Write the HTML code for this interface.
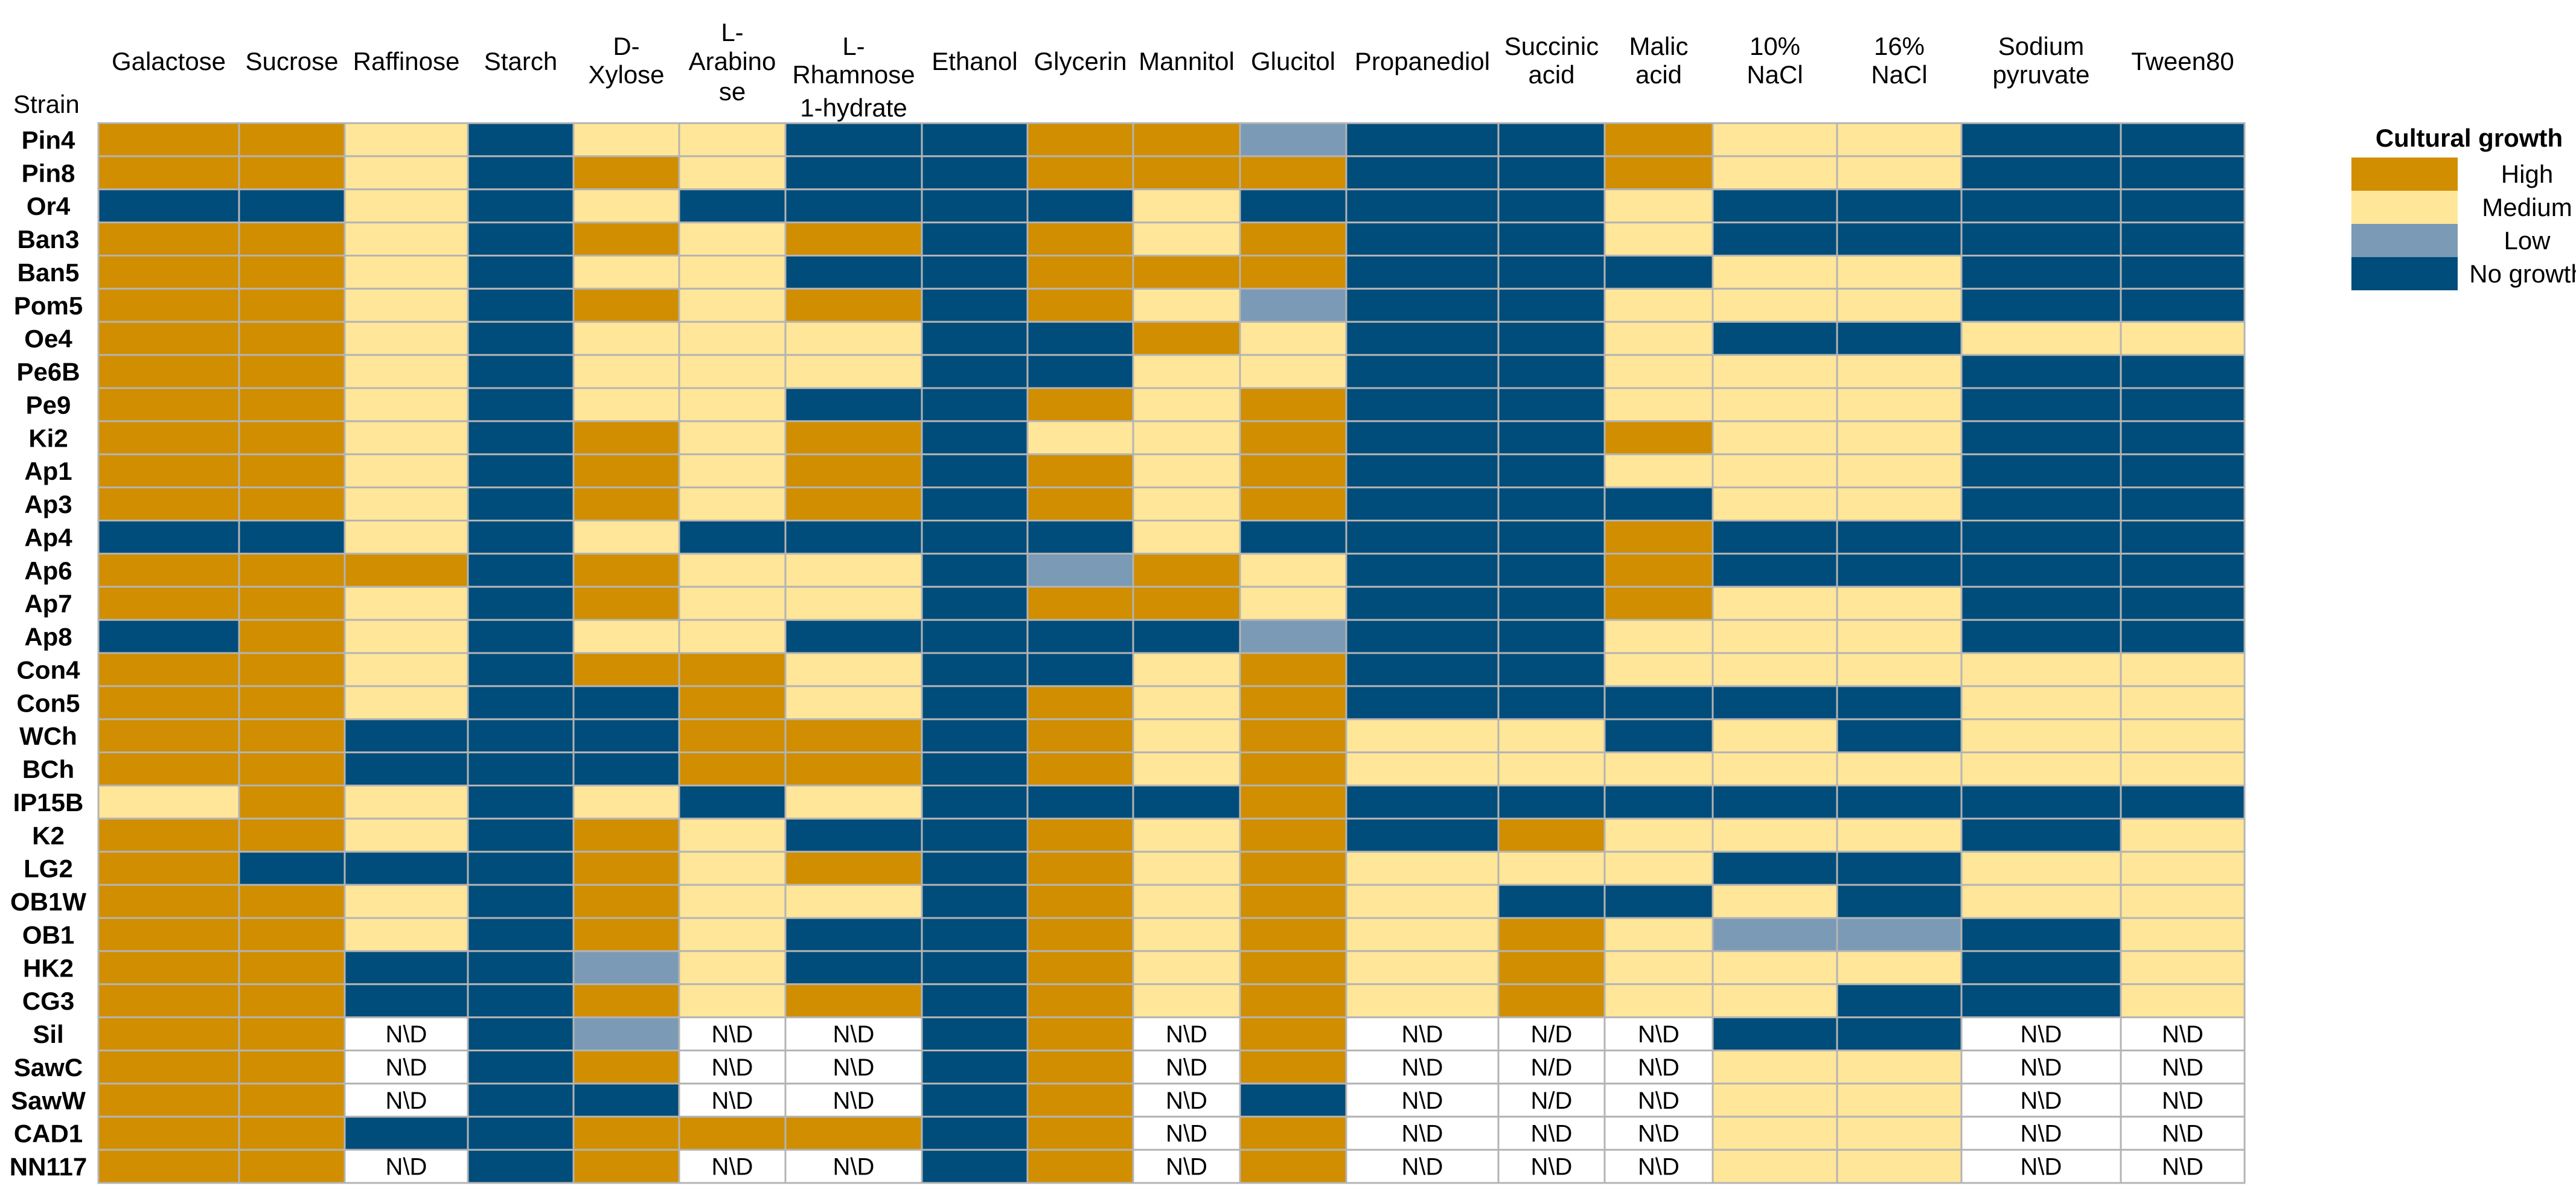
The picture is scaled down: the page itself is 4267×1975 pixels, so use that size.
<!DOCTYPE html>
<html><head><meta charset="utf-8">
<style>
html,body{margin:0;padding:0;background:#fff;}
svg{display:block;font-family:"Liberation Sans",Arial,sans-serif;}
</style></head>
<body>
<svg id="chart" width="4267" height="1975" viewBox="0 0 4267 1975" xmlns="http://www.w3.org/2000/svg"></svg>
<script>
const strains = ["Pin4","Pin8","Or4","Ban3","Ban5","Pom5","Oe4","Pe6B","Pe9","Ki2","Ap1","Ap3","Ap4","Ap6","Ap7","Ap8","Con4","Con5","WCh","BCh","IP15B","K2","LG2","OB1W","OB1","HK2","CG3","Sil","SawC","SawW","CAD1","NN117"];
const substrates = [["Galactose"],["Sucrose"],["Raffinose"],["Starch"],["D-","Xylose"],["L-","Arabino","se"],["L-","Rhamnose","1-hydrate"],["Ethanol"],["Glycerin"],["Mannitol"],["Glucitol"],["Propanediol"],["Succinic","acid"],["Malic","acid"],["10%","NaCl"],["16%","NaCl"],["Sodium","pyruvate"],["Tween80"]];
// H=High, M=Medium, L=Low, N=No growth, D=N\D, S=N/D
const growth = [
"HHMNMMNNHHLNNHMMNN",
"HHMNHMNNHHHNNHMMNN",
"NNMNMNNNNMNNNMNNNN",
"HHMNHMHNHMHNNMNNNN",
"HHMNMMNNHHHNNNMMNN",
"HHMNHMHNHMLNNMMMNN",
"HHMNMMMNNHMNNMNNMM",
"HHMNMMMNNMMNNMMMNN",
"HHMNMMNNHMHNNMMMNN",
"HHMNHMHNMMHNNHMMNN",
"HHMNHMHNHMHNNMMMNN",
"HHMNHMHNHMHNNNMMNN",
"NNMNMNNNNMNNNHNNNN",
"HHHNHMMNLHMNNHNNNN",
"HHMNHMMNHHMNNHMMNN",
"NHMNMMNNNNLNNMMMNN",
"HHMNHHMNNMHNNMMMMM",
"HHMNNHMNHMHNNNNNMM",
"HHNNNHHNHMHMMNMNMM",
"HHNNNHHNHMHMMMMMMM",
"MHMNMNMNNNHNNNNNNN",
"HHMNHMNNHMHNHMMMNM",
"HNNNHMHNHMHMMMNNMM",
"HHMNHMMNHMHMNNMNMM",
"HHMNHMNNHMHMHMLLNM",
"HHNNLMNNHMHMHMMMNM",
"HHNNHMHNHMHMHMMNNM",
"HHDNLDDNHDHDSDNNDD",
"HHDNHDDNHDHDSDMMDD",
"HHDNNDDNHDNDSDMMDD",
"HHNNHHHNHDHDDDMMDD",
"HHDNHDDNHDHDDDMMDD"
];
const legendLabels = ["High","Medium","Low","No growth"];
const legendCodes = ["H","M","L","N"];

const colors = {H:"#D08E00",M:"#FFE699",L:"#7B9AB5",N:"#004C7A",D:"#FFFFFF",S:"#FFFFFF"};
const ndText = {D:"N\\D",S:"N/D"};
const colEdges = [163,396,571,775,950,1125,1301,1527,1702,1877,2054,2230,2482,2658,2837,3043,3249,3513,3718];
const gridTop = 204, gridBottom = 1960;
const rowH = (gridBottom-gridTop)/strains.length;
const NS = "http://www.w3.org/2000/svg";
const svg = document.getElementById("chart");
function mk(tag, attrs, parent){
  const e = document.createElementNS(NS, tag);
  for (const k in attrs) e.setAttribute(k, attrs[k]);
  (parent||svg).appendChild(e);
  return e;
}
function yPos(i){ return gridTop + i*rowH; }
function xPos(j){ return colEdges[j]; }

// header labels
const lineBase = {1:[116],2:[91,138],3:[68,116,166]};
substrates.forEach((lines,j)=>{
  const g = mk("g",{});
  
  
  const cx = (xPos(j)+xPos(j+1))/2;
  let bases = lineBase[lines.length];
  if (j===6) bases=[91,138,193];
  lines.forEach((t,k)=>{
    const tx = mk("text",{x:cx,y:bases[k],"text-anchor":"middle","font-size":"42",fill:"#000"},g);
    tx.textContent = t;
  });
});
const st = mk("text",{x:22,y:187,"font-size":"42",fill:"#000"});


st.textContent = "Strain";

// cells
strains.forEach((s,i)=>{
  const lab = mk("text",{x:80,y:yPos(i)+rowH/2+15,"text-anchor":"middle","font-size":"42","font-weight":"bold",fill:"#000"});
  
  
  lab.textContent = s;
  for (let j=0;j<substrates.length;j++){
    const code = growth[i][j];
    const r = mk("rect",{x:xPos(j),y:yPos(i),width:xPos(j+1)-xPos(j),height:rowH,fill:colors[code],stroke:"#B4B4B4","stroke-width":"3"});
    
    
    if (ndText[code]){
      const t = mk("text",{x:(xPos(j)+xPos(j+1))/2,y:yPos(i)+rowH/2+14,"text-anchor":"middle","font-size":"40",fill:"#000"});
      
      
      t.textContent = ndText[code];
    }
  }
});

// legend
const lg = mk("g",{});


const lt = mk("text",{x:4090,y:243,"text-anchor":"middle","font-size":"42","font-weight":"bold",fill:"#000"},lg);


lt.textContent = "Cultural growth";
legendLabels.forEach((l,k)=>{
  const r = mk("rect",{x:3895,y:261+k*55,width:176,height:55,fill:colors[legendCodes[k]]},lg);
  
  
  const t = mk("text",{x:4186,y:261+k*55+42,"text-anchor":"middle","font-size":"42",fill:"#000"},lg);
  
  
  t.textContent = l;
});
</script>
</body></html>
